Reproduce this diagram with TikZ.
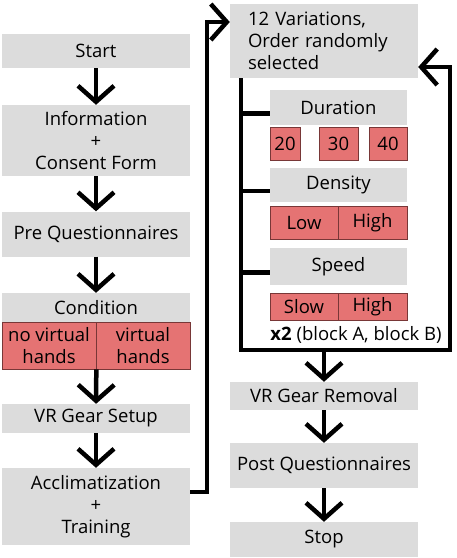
\documentclass[tikz,border=0pt]{standalone}
\usepackage{fontspec}
\setmainfont{Open Sans}
\usetikzlibrary{arrows.meta,calc}
\definecolor{boxgray}{RGB}{220,220,220}
\definecolor{optred}{RGB}{229,115,115}
\definecolor{optedge}{RGB}{120,55,55}

\begin{document}
\begin{tikzpicture}[x=1pt,y=-1pt,font=\fontsize{18.5}{22}\selectfont,
  >={Straight Barb[length=16pt,width=36pt]},
  flow/.style={line width=4.5pt},
  box/.style={fill=boxgray,inner sep=0pt,align=center,minimum width=188pt},
  opt/.style={fill=optred,draw=optedge,line width=0.6pt,inner sep=0pt,align=center}]
  \useasboundingbox (0,0) rectangle (457,558);
  % left column
  \node[box,minimum height=34pt](start) at (96,51){Start};
  \node[box,minimum height=71pt](info) at (96,140.5){Information\\+\\Consent Form};
  \node[box,minimum height=45pt](preq) at (96,234){Pre Questionnaires};
  \node[box,minimum height=29pt](cond) at (96,307.5){Condition};
  \node[opt,minimum width=94pt,minimum height=47pt](noh) at (49,345.5){no virtual\\hands};
  \node[opt,minimum width=94pt,minimum height=47pt](vh) at (143,345.5){virtual\\hands};
  \node[box,minimum height=29pt](vrset) at (96,418.5){VR Gear Setup};
  \node[box,minimum height=77pt](accl) at (96,506.5){Acclimatization\\+\\Training};
  \foreach \a/\b in {start/info,info/preq,preq/cond,vrset/accl}\draw[flow,->](\a)--(\b);
  \draw[flow,->](noh.south east)--(vrset);
  % right column
  \node[box,minimum height=74pt,text width=152pt,inner xsep=18pt,align=left](var) at (324,41){12 Variations,\\Order randomly\\selected};
  \node[box,minimum width=137pt,minimum height=35pt](dur) at (338.5,107.5){Duration};
  \node[opt,minimum width=30pt,minimum height=33pt](d20) at (285,143.5){20};
  \node[opt,minimum width=39pt,minimum height=33pt](d30) at (338.5,143.5){30};
  \node[opt,minimum width=38pt,minimum height=33pt](d40) at (388,143.5){40};
  \node[box,minimum width=137pt,minimum height=34pt](dens) at (338.5,185){Density};
  \node[opt,minimum width=68pt,minimum height=33pt](low) at (304,222.5){Low};
  \node[opt,minimum width=69pt,minimum height=33pt](high) at (372.5,222.5){High};
  \node[box,minimum width=137pt,minimum height=37pt](spd) at (338.5,266.5){Speed};
  \node[opt,minimum width=68pt,minimum height=27pt](slow) at (304,306.5){Slow};
  \node[opt,minimum width=69pt,minimum height=27pt](fast) at (372.5,306.5){High};
  \node[inner sep=0pt](rep) at (356,335){\textbf{x2} (block A, block B)};
  \node[box,minimum height=28pt](vrrem) at (324,396){VR Gear Removal};
  \node[box,minimum height=45pt](postq) at (324,465.5){Post Questionnaires};
  \node[box,minimum height=35pt](stop) at (324,539.5){Stop};
  % loops
  \draw[flow,->]($(accl.east)+(0,-14.5)$)--++(17,0)|-($(var.west)+(0,-19)$);
  \coordinate(trunk) at (241,78); \coordinate(bl) at (241,350); \coordinate(br) at (450,350);
  \draw[flow,->](trunk)--(bl)--(br)|-($(var.east)+(0,26)$);
  \foreach \n in {dur,dens,spd}\draw[flow]($(\n.west)+(0,6)$)--++(-31,0);
  \draw[flow,->](vrrem.north |- br)--(vrrem);
  \foreach \a/\b in {vrrem/postq,postq/stop}\draw[flow,->](\a)--(\b);
\end{tikzpicture}
\end{document}
